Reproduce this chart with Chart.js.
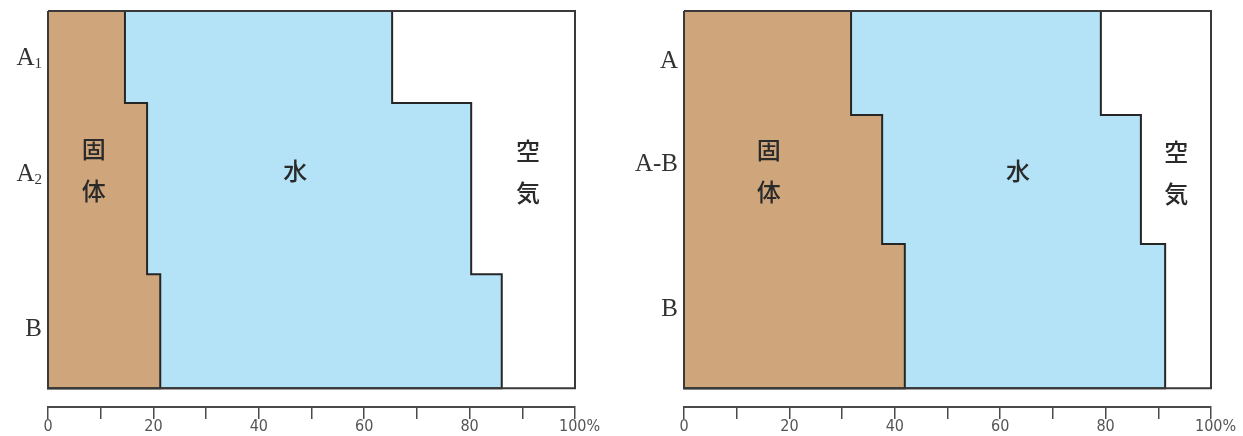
<!DOCTYPE html>
<html>
<head>
<meta charset="utf-8">
<script src="https://cdn.jsdelivr.net/npm/chart.js@4.4.1/dist/chart.umd.min.js"></script>
<style>
  html, body { margin: 0; padding: 0; background: #fff; }
  #wrap { position: relative; width: 1243px; height: 436px; }
  .panel { position: absolute; top: 0; height: 436px; }
  #left { left: 0; width: 621px; }
  #right { left: 621px; width: 622px; }
</style>
</head>
<body>
<div id="wrap">
  <div class="panel" id="left"><canvas id="chartLeft"></canvas></div>
  <div class="panel" id="right"><canvas id="chartRight"></canvas></div>
</div>
<script>
// Soil profile data : depth in % of profile (top = 0), volumes in %
const regionNames = ["固体", "水", "空気"];

// left profile (A1 / A2 / B)
const leftHorizon = ["A", "A", "B"];
const leftHorizonSub = ["1", "2", ""];
const leftHorizonDepth = [12.2, 43, 84.1];
const leftLayerBottom = [24.4, 69.8, 100];
const leftSolid = [14.6, 18.8, 21.3];
const leftWater = [50.7, 61.5, 64.8];
const leftRegionX = [8.7, 46.9, 91.1];
const leftRegionDepth = [42.1, 42.4, 42.6];

// right profile (A / A-B / B)
const rightHorizon = ["A", "A-B", "B"];
const rightHorizonSub = ["", "", ""];
const rightHorizonDepth = [13.0, 40.3, 78.8];
const rightLayerBottom = [27.6, 61.8, 100];
const rightSolid = [31.7, 37.6, 41.9];
const rightWater = [47.4, 49.1, 49.4];
const rightRegionX = [16.1, 63.4, 93.4];
const rightRegionDepth = [42.3, 42.4, 43.0];

const xTicks = [0, 10, 20, 30, 40, 50, 60, 70, 80, 90, 100];

const solidColor = "#cfa67b";
const waterColor = "#b4e2f7";
const lineColor = "#262626";

// build a stepped outline from the left edge of the box
function stepPolygon(bounds, bottoms) {
    const pts = [{ x: 0, y: 0 }];
    let top = 0;
    bounds.forEach((v, i) => {
        pts.push({ x: v, y: top });
        pts.push({ x: v, y: bottoms[i] });
        top = bottoms[i];
    });
    pts.push({ x: 0, y: top });
    pts.push({ x: 0, y: 0 });
    return pts;
}

// draws horizon names on the left and the region names inside the plot
const profileText = {
    id: "profileText",
    afterDatasetsDraw(chart, args, opts) {
        const { ctx } = chart;
        const x = chart.scales.x;
        const y = chart.scales.y;
        ctx.save();
        ctx.fillStyle = "#333";
        ctx.textBaseline = "alphabetic";
        const right = x.getPixelForValue(0) - 6;
        opts.horizons.forEach((name, i) => {
            const sub = opts.subs[i];
            const cy = y.getPixelForValue(opts.depths[i]);
            ctx.font = '15px "Liberation Serif", serif';
            const subW = sub ? ctx.measureText(sub).width : 0;
            ctx.textAlign = "left";
            if (sub) ctx.fillText(sub, right - subW, cy + 11);
            ctx.font = '25px "Liberation Serif", serif';
            ctx.textAlign = "right";
            ctx.fillText(name, right - subW, cy + 8);
        });

        ctx.fillStyle = "#2a2a2a";
        ctx.font = '500 24px "Noto Sans CJK JP", sans-serif';
        ctx.textAlign = "center";
        ctx.textBaseline = "middle";
        regionNames.forEach((name, i) => {
            const chars = [...name];
            const cx = x.getPixelForValue(opts.regionX[i]);
            const cy = y.getPixelForValue(opts.regionDepth[i]);
            chars.forEach((c, k) => {
                ctx.fillText(c, cx, cy + (k - (chars.length - 1) / 2) * 42);
            });
        });
        ctx.restore();
    },
};

function makeChart(canvasId, p) {
    const solidWater = p.solid.map((v, i) => v + p.water[i]);
    const common = { showLine: true, pointRadius: 0, tension: 0, clip: false, borderWidth: 2 };
    new Chart(document.getElementById(canvasId), {
        type: "scatter",
        data: {
            datasets: [
                {
                    ...common,
                    label: "box",
                    data: [{ x: 0, y: 0 }, { x: 100, y: 0 }, { x: 100, y: 100 }, { x: 0, y: 100 }, { x: 0, y: 0 }],
                    borderColor: "#3a3a3a",
                    fill: false,
                    order: 0,
                },
                {
                    ...common,
                    label: regionNames[0],
                    data: stepPolygon(p.solid, p.bottoms),
                    borderColor: lineColor,
                    backgroundColor: solidColor,
                    fill: "shape",
                    order: 1,
                },
                {
                    ...common,
                    label: regionNames[1],
                    data: stepPolygon(solidWater, p.bottoms),
                    borderColor: lineColor,
                    backgroundColor: waterColor,
                    fill: "shape",
                    order: 2,
                },
            ],
        },
        options: {
            responsive: true,
            maintainAspectRatio: false,
            animation: false,
            layout: { padding: p.padding },
            plugins: {
                legend: { display: false },
                tooltip: { enabled: false },
                profileText: {
                    horizons: p.horizons,
                    subs: p.subs,
                    depths: p.depths,
                    regionX: p.regionX,
                    regionDepth: p.regionDepth,
                },
            },
            scales: {
                x: {
                    type: "linear",
                    position: "bottom",
                    min: 0,
                    max: 100,
                    afterFit: (s) => { s.height = 29; },
                    afterBuildTicks: (s) => { s.ticks = xTicks.map((v) => ({ value: v })); },
                    ticks: {
                        autoSkip: false,
                        maxRotation: 0,
                        padding: -2,
                        color: "#555",
                        font: { family: '"Liberation Sans Narrow", "DejaVu Sans Condensed", sans-serif', size: 16 },
                        callback: (v) => (v % 20 !== 0 ? "" : v === 100 ? "  100%" : String(v)),
                    },
                    grid: { drawOnChartArea: false, drawTicks: true, tickLength: 12, color: "#4a4a4a", lineWidth: 1.5 },
                    border: { display: true, color: "#4a4a4a", width: 2 },
                },
                y: {
                    type: "linear",
                    min: 0,
                    max: 105,
                    reverse: true,
                    display: false,
                },
            },
        },
        plugins: [profileText],
    });
}

makeChart("chartLeft", {
    solid: leftSolid, water: leftWater, bottoms: leftLayerBottom,
    horizons: leftHorizon, subs: leftHorizonSub, depths: leftHorizonDepth,
    regionX: leftRegionX, regionDepth: leftRegionDepth,
    padding: { left: 48, right: 46, top: 11, bottom: 0 },
});
makeChart("chartRight", {
    solid: rightSolid, water: rightWater, bottoms: rightLayerBottom,
    horizons: rightHorizon, subs: rightHorizonSub, depths: rightHorizonDepth,
    regionX: rightRegionX, regionDepth: rightRegionDepth,
    padding: { left: 63, right: 32, top: 11, bottom: 0 },
});
</script>
</body>
</html>
